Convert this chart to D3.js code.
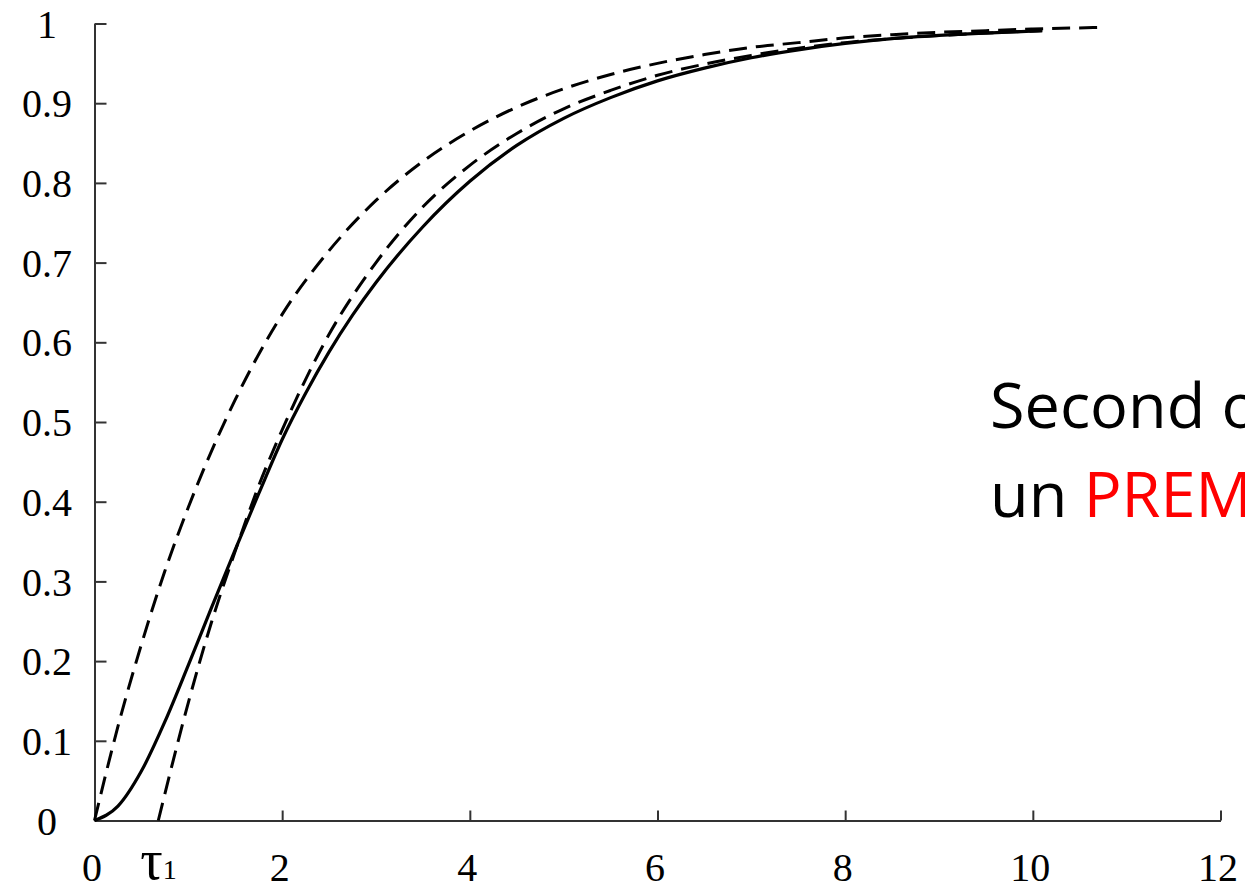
<!DOCTYPE html>
<html>
<head>
<meta charset="utf-8">
<script src="https://cdn.jsdelivr.net/npm/d3@7"></script>
<style>
  html, body { margin: 0; padding: 0; background: #fff; overflow: hidden; }
  svg { display: block; }
</style>
</head>
<body>
<svg id="chart" width="1245" height="890"></svg>
<script>
// Step response of a second-order system (solid) with two first-order approximations (dashed)
const xTicks = [0, 2, 4, 6, 8, 10, 12];
const yTicks = [0, 0.1, 0.2, 0.3, 0.4, 0.5, 0.6, 0.7, 0.8, 0.9, 1];
const yTickLabels = ["0", "0.1", "0.2", "0.3", "0.4", "0.5", "0.6", "0.7", "0.8", "0.9", "1"];

// dead time of the delayed approximation
const tau1 = 0.68;

// second-order response
const secondT = [0, 0.25, 0.5, 0.75, 1.0, 1.25, 1.5, 1.75, 2.0, 2.25, 2.5, 2.75, 3.0, 3.5, 4.0, 4.5, 5.0, 5.5, 6.0, 6.5, 7.0, 7.5, 8.0, 8.5, 9.0, 9.5, 10.1];
const secondY = [0, 0.018, 0.062, 0.124, 0.195, 0.268, 0.34, 0.41, 0.478, 0.536, 0.588, 0.634, 0.675, 0.745, 0.802, 0.847, 0.881, 0.907, 0.928, 0.944, 0.957, 0.967, 0.975, 0.981, 0.985, 0.988, 0.991];

// first-order approximation without delay
const firstT = [0, 0.25, 0.5, 0.75, 1.0, 1.5, 2.0, 2.5, 3.0, 3.5, 4.0, 4.5, 5.0, 5.5, 6.0, 6.5, 7.0, 7.5, 8.0, 8.5, 9.0, 9.5, 10.0, 10.7];
const firstY = [0, 0.118, 0.221, 0.313, 0.393, 0.528, 0.635, 0.715, 0.778, 0.827, 0.865, 0.895, 0.918, 0.936, 0.950, 0.961, 0.970, 0.976, 0.982, 0.986, 0.989, 0.991, 0.993, 0.995];

// first-order approximation with dead time tau1
const delayedT = [0.68, 1.0, 1.25, 1.5, 1.75, 2.0, 2.5, 3.0, 3.5, 4.0, 4.5, 5.0, 5.5, 6.0, 6.5, 7.0, 7.5, 8.0, 8.5, 9.0, 9.5, 10.1];
const delayedY = [0, 0.148, 0.25, 0.338, 0.42, 0.49, 0.61, 0.70, 0.77, 0.822, 0.862, 0.893, 0.916, 0.935, 0.949, 0.96, 0.969, 0.976, 0.981, 0.985, 0.988, 0.991];

const svg = d3.select("#chart");

const x = d3.scaleLinear().domain([0, 12]).range([94.5, 1220.5]);
const y = d3.scaleLinear().domain([0, 1]).range([820.5, 23.5]);

const axisColor = "#333";
const serif = "'Liberation Serif', 'Times New Roman', serif";

// y axis: ticks point inward, labels centred in the left margin
const gy = svg.append("g")
  .attr("transform", `translate(${x(0)},0)`)
  .call(d3.axisLeft(y).tickValues(yTicks).tickSize(-12).tickSizeOuter(0)
    .tickFormat((d, i) => yTickLabels[i]));
gy.select(".domain").attr("stroke", axisColor).attr("stroke-width", 2);
gy.selectAll(".tick line").attr("stroke", axisColor).attr("stroke-width", 2);
gy.selectAll(".tick text")
  .attr("x", 47 - x(0))
  .attr("dy", "0.34em")
  .attr("text-anchor", "middle")
  .attr("fill", "#000")
  .style("font-family", serif)
  .style("font-size", "40px");

// x axis: ticks point upward
const gx = svg.append("g")
  .attr("transform", `translate(0,${y(0)})`)
  .call(d3.axisBottom(x).tickValues(xTicks).tickSize(-10).tickSizeOuter(0)
    .tickFormat(d3.format("d")));
gx.select(".domain").attr("stroke", axisColor).attr("stroke-width", 2);
gx.selectAll(".tick line").attr("stroke", axisColor).attr("stroke-width", 2);
gx.selectAll(".tick text")
  .attr("x", -3)
  .attr("y", 60)
  .attr("dy", 0)
  .attr("fill", "#000")
  .style("font-family", serif)
  .style("font-size", "40px");

// tau1 label under the start of the delayed curve
const tauLabel = svg.append("text")
  .attr("x", x(tau1) - 18)
  .attr("y", 879)
  .attr("fill", "#000")
  .style("font-family", serif);
tauLabel.append("tspan").style("font-size", "56px").text("τ");
tauLabel.append("tspan").style("font-size", "28px").text("1");

const line = d3.line()
  .x(d => x(d[0]))
  .y(d => y(d[1]))
  .curve(d3.curveMonotoneX);

const toPts = (ts, vs) => ts.map((t, i) => [t, vs[i]]);

svg.append("path")
  .datum(toPts(firstT, firstY))
  .attr("d", line)
  .attr("fill", "none")
  .attr("stroke", "#000")
  .attr("stroke-width", 3)
  .attr("stroke-dasharray", "18,9");

svg.append("path")
  .datum(toPts(delayedT, delayedY))
  .attr("d", line)
  .attr("fill", "none")
  .attr("stroke", "#000")
  .attr("stroke-width", 3)
  .attr("stroke-dasharray", "18,9");

svg.append("path")
  .datum(toPts(secondT, secondY))
  .attr("d", line)
  .attr("fill", "none")
  .attr("stroke", "#000")
  .attr("stroke-width", 3.2);

// annotation on the right
const sans = "'Open Sans', Lato, sans-serif";
svg.append("text")
  .attr("x", 990)
  .attr("y", 428)
  .attr("fill", "#000")
  .style("font-family", sans)
  .style("font-size", "63px")
  .text("Second ordre");

const line2 = svg.append("text")
  .attr("x", 990)
  .attr("y", 517)
  .attr("fill", "#000")
  .style("font-family", sans)
  .style("font-size", "63px");
line2.append("tspan").text("un ");
line2.append("tspan").attr("fill", "#ff0000").text("PREMIER ordre");
</script>
</body>
</html>
